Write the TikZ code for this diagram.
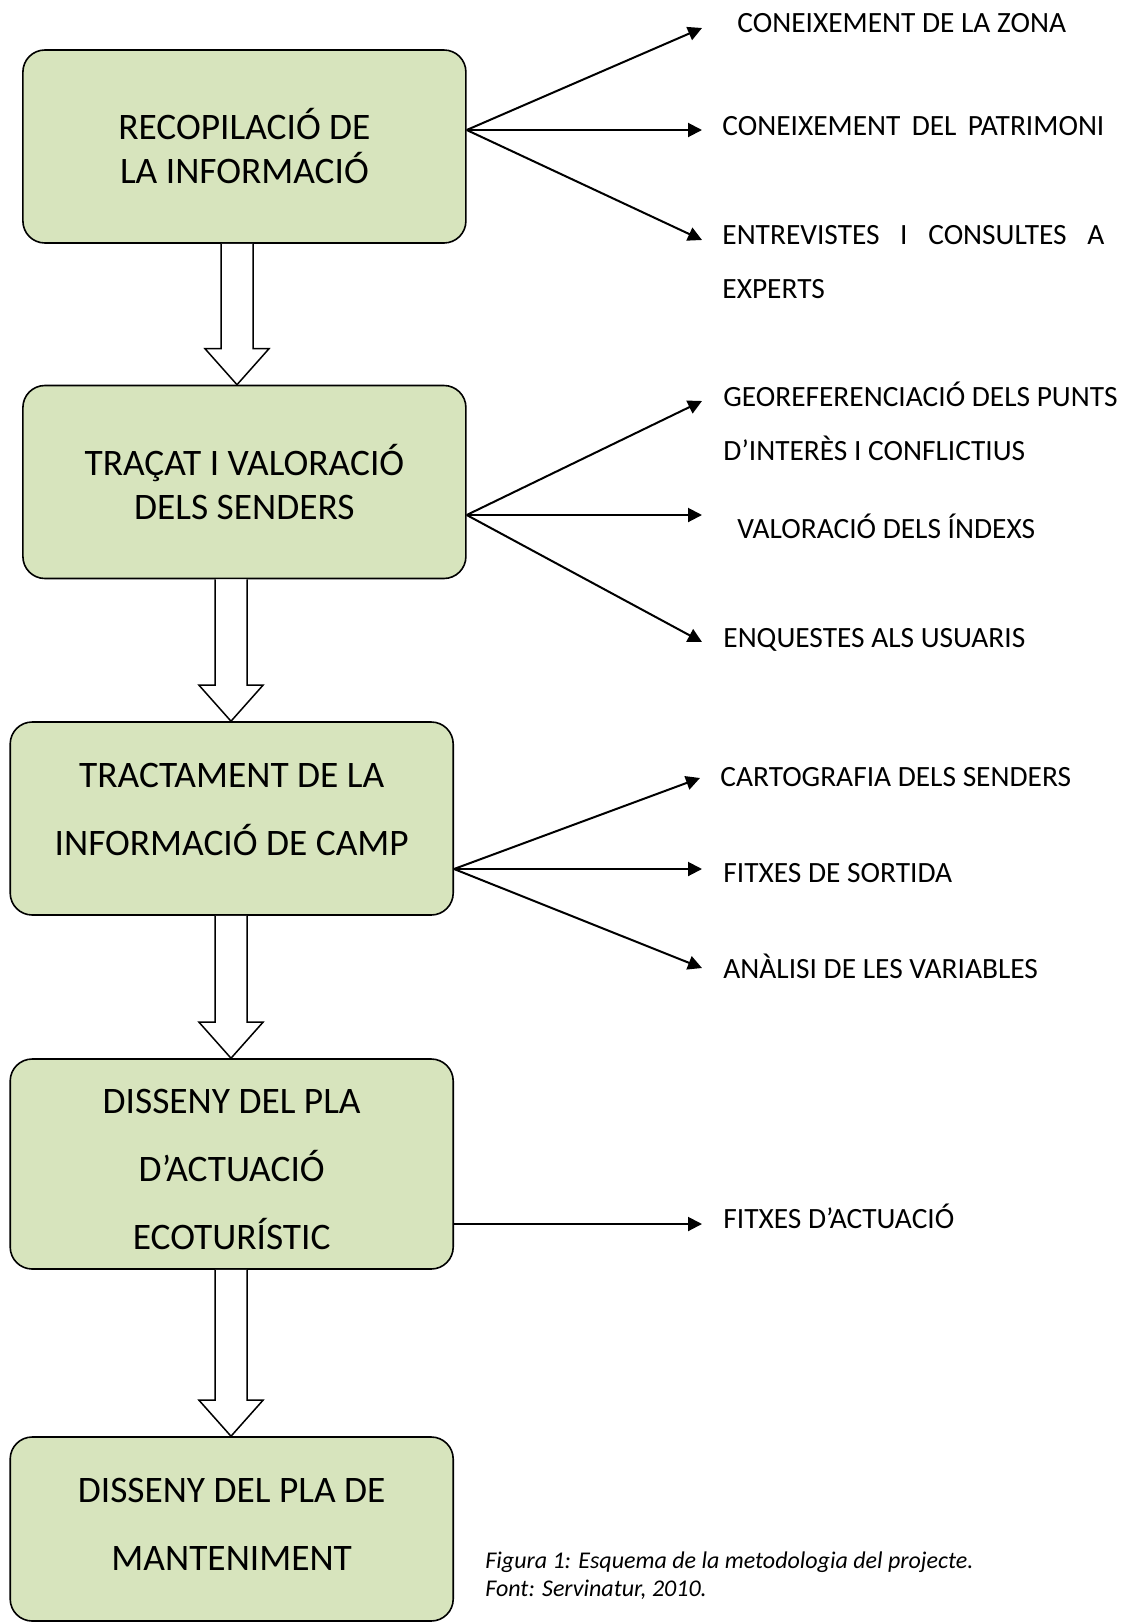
\documentclass[tikz,border=0pt]{standalone}
\usepackage{fontspec}
\setmainfont{Carlito}
\usetikzlibrary{arrows.meta,positioning,calc}

\definecolor{stagegreen}{HTML}{D7E4BD}

\tikzset{
  stage/.style={draw=black, line width=0.8pt, fill=stagegreen, rounded corners=11pt,
    align=center, inner sep=0pt, minimum width=221.5pt},
  wide/.style={font=\fontsize{18.7}{22}\selectfont},
  tall/.style={font=\fontsize{18.7}{34}\selectfont},
  blockarrow/.style={draw=black, line width=0.75pt, fill=white},
  branch/.style={-{Triangle[length=7pt,width=7pt]}, line width=1pt},
  item/.style={anchor=west, inner sep=0pt, align=left, font=\fontsize{14.7}{27}\selectfont},
}

\begin{document}
\begin{tikzpicture}[x=0.5pt, y=-0.5pt]
\useasboundingbox (0,0) rectangle (1125,1623);

% Stages of the method
\node[stage, wide, minimum height=96.5pt] (recopilacio) at (244.4,146.5) {RECOPILACIÓ DE\\LA INFORMACIÓ};
\node[stage, wide, minimum height=96.5pt] (tracat) at (244.4,482) {TRAÇAT I VALORACIÓ\\DELS SENDERS};
\node[stage, tall, minimum height=96.5pt] (tractament) at (231.7,818.5) {TRACTAMENT DE LA\\INFORMACIÓ DE CAMP\rule[-9pt]{0pt}{9pt}};
\node[stage, tall, minimum height=105pt] (disseny) at (231.7,1164) {\rule{0pt}{18pt}DISSENY DEL PLA\\D’ACTUACIÓ\\ECOTURÍSTIC};
\node[stage, tall, minimum height=92pt] (manteniment) at (231.7,1529) {DISSENY DEL PLA DE\\MANTENIMENT\rule[-5pt]{0pt}{5pt}};

% Hollow arrows between stages
\foreach \a/\b/\cx in {recopilacio/tracat/237, tracat/tractament/231, tractament/disseny/231, disseny/manteniment/231} {
  \draw[blockarrow] let \p1=(\a.south), \p2=(\b.north) in
    (\cx*0.5pt-8pt,\y1) -- (\cx*0.5pt-8pt,\y2+18pt) -- (\cx*0.5pt-16pt,\y2+18pt)
    -- (\cx*0.5pt,\y2) -- (\cx*0.5pt+16pt,\y2+18pt) -- (\cx*0.5pt+8pt,\y2+18pt)
    -- (\cx*0.5pt+8pt,\y1);
}

% Tasks of each stage
\node[item] (zona) at (737,23) {CONEIXEMENT DE LA ZONA};
\node[item] (patrimoni) at (722,126) {\makebox[191pt][s]{CONEIXEMENT DEL PATRIMONI}};
\node[item] (experts) at (722,262) {\makebox[191pt][s]{ENTREVISTES I CONSULTES A}\\EXPERTS};
\node[item] (georef) at (723,421) {GEOREFERENCIACIÓ DELS PUNTS\\D’INTERÈS I CONFLICTIUS};
\node[item] (index) at (737,526) {VALORACIÓ DELS ÍNDEXS};
\node[item] (enquestes) at (723,640) {ENQUESTES ALS USUARIS};
\node[item] (cartografia) at (720,777) {CARTOGRAFIA DELS SENDERS};
\node[item] (sortida) at (723,873) {FITXES DE SORTIDA};
\node[item] (analisi) at (723,966) {ANÀLISI DE LES VARIABLES};
\node[item] (actuacio) at (723,1216) {FITXES D’ACTUACIÓ};

% Arrow tips
\coordinate (zona-t) at (702,28);
\coordinate (patrimoni-t) at (702,130);
\coordinate (experts-t) at (702,240);
\coordinate (georef-t) at (702,401);
\coordinate (index-t) at (702,515);
\coordinate (enquestes-t) at (702,642);
\coordinate (cartografia-t) at (700,778);
\coordinate (sortida-t) at (702,869);
\coordinate (analisi-t) at (702,968);
\coordinate (actuacio-t) at (702,1224);

% Branching arrows
\coordinate (recopilacio-o) at ($(recopilacio.east)+(0,-16.5)$);
\coordinate (tracat-o) at ($(tracat.east)+(0,33)$);
\coordinate (tractament-o) at ($(tractament.east)+(0,50.5)$);
\coordinate (disseny-o) at ($(disseny.east)+(0,60)$);
\foreach \t in {zona, patrimoni, experts} \draw[branch] (recopilacio-o) -- (\t-t);
\foreach \t in {georef, index, enquestes} \draw[branch] (tracat-o) -- (\t-t);
\foreach \t in {cartografia, sortida, analisi} \draw[branch] (tractament-o) -- (\t-t);
\draw[branch] (disseny-o) -- (actuacio-t);

% Caption
\node[anchor=west, inner sep=0pt, align=left, font=\itshape\fontsize{12}{14}\selectfont] (caption) at (485,1576)
  {Figura 1: Esquema de la metodologia del projecte.\\Font: Servinatur, 2010.};

\end{tikzpicture}
\end{document}
